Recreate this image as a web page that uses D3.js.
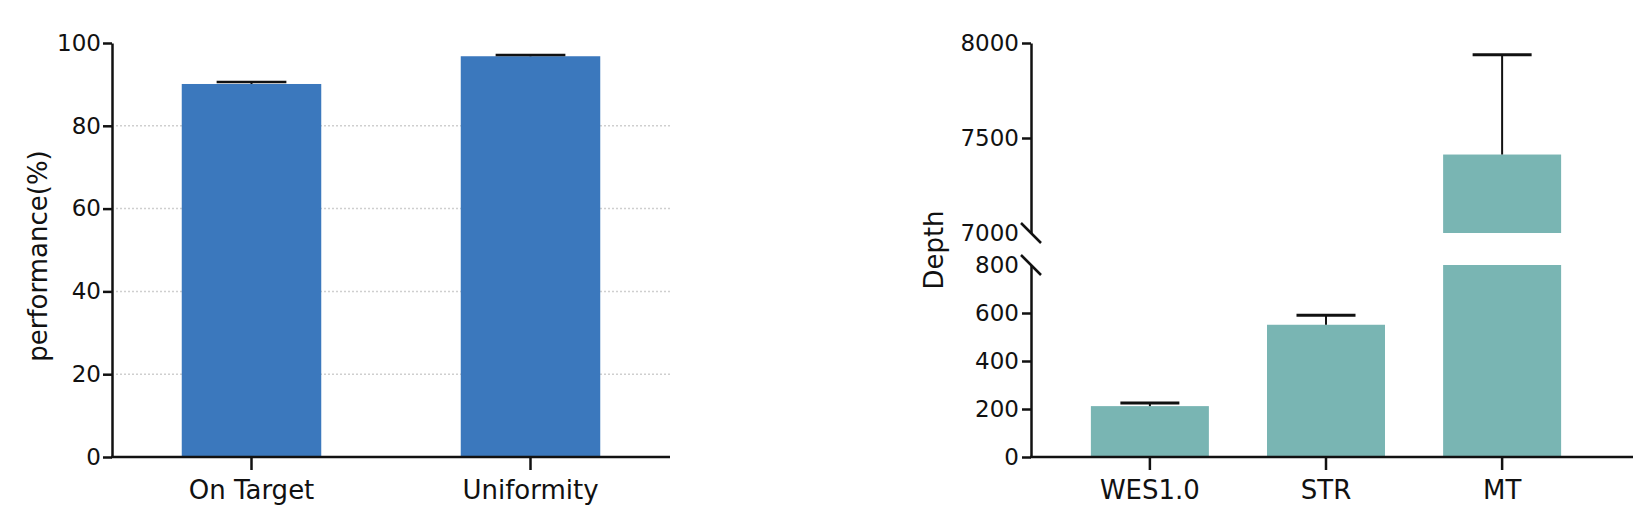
<!DOCTYPE html>
<html>
<head>
<meta charset="utf-8">
<script src="https://cdn.jsdelivr.net/npm/d3@7"></script>
<style>
  body { margin: 0; background: #fff; }
  svg text { font-family: "DejaVu Sans", "Open Sans", sans-serif; fill: #111; }
  .axis path, .axis line { stroke: #111; stroke-width: 2.5px; }
</style>
</head>
<body>
<svg id="chart" width="1636" height="518"></svg>
<script>
// left panel: capture performance
const perfCats = ['On Target', 'Uniformity'];
const perfValues = [90.1, 96.8];
const perfErr = [0.5, 0.3];
const perfTicks = [0, 20, 40, 60, 80, 100];

// right panel: depth, broken y axis
const depthCats = ['WES1.0', 'STR', 'MT'];
const depthValues = [212, 551, 7413];
const depthErr = [13, 40, 525];
const depthLowTicks = [0, 200, 400, 600, 800];
const depthHighTicks = [7000, 7500, 8000];

const svg = d3.select('#chart');
const tickFont = 23;
const labelFont = 26;

// ---------- left chart ----------
let x1 = d3.scaleBand()
  .domain(perfCats)
  .range([112, 670])
  .paddingInner(0.5)
  .paddingOuter(0.25);
let y1 = d3.scaleLinear()
  .domain([0, 100])
  .range([457, 43]);

let left = svg.append('g');

// dotted grid
left.append('g')
  .selectAll('line')
  .data(perfTicks.filter(d => d > 0 && d < 100))
  .enter().append('line')
  .attr('x1', x1.range()[0] + 4)
  .attr('x2', x1.range()[1])
  .attr('y1', d => y1(d))
  .attr('y2', d => y1(d))
  .style('stroke', '#cfcfcf')
  .style('stroke-width', '1.5px')
  .style('stroke-dasharray', '2,2');

left.selectAll('.bar')
  .data(perfValues)
  .enter().append('rect')
  .attr('x', (d, i) => x1(perfCats[i]))
  .attr('width', x1.bandwidth())
  .attr('y', d => y1(d))
  .attr('height', d => y1(0) - y1(d))
  .style('fill', '#3b78bd');

function errorBars(g, cats, vals, errs, x, y, lw) {
  let eb = g.append('g');
  eb.selectAll('.stem')
    .data(vals)
    .enter().append('line')
    .attr('x1', (d, i) => x(cats[i]) + x.bandwidth() / 2)
    .attr('x2', (d, i) => x(cats[i]) + x.bandwidth() / 2)
    .attr('y1', d => y(d))
    .attr('y2', (d, i) => y(d + errs[i]))
    .style('stroke', '#111')
    .style('stroke-width', '2px');
  eb.selectAll('.cap')
    .data(vals)
    .enter().append('line')
    .attr('x1', (d, i) => x(cats[i]) + x.bandwidth() / 4)
    .attr('x2', (d, i) => x(cats[i]) + x.bandwidth() * 3 / 4)
    .attr('y1', (d, i) => y(d + errs[i]))
    .attr('y2', (d, i) => y(d + errs[i]))
    .style('stroke', '#111')
    .style('stroke-width', lw);
}
errorBars(left, perfCats, perfValues, perfErr, x1, y1, '2.5px');

left.append('g')
  .attr('class', 'axis')
  .attr('transform', 'translate(' + x1.range()[0] + ',0)')
  .call(d3.axisLeft(y1).tickValues(perfTicks).tickFormat(d3.format('d'))
    .tickSize(9).tickSizeOuter(0).tickPadding(2))
  .call(g => g.selectAll('text').style('font-size', tickFont + 'px'));

left.append('g')
  .attr('class', 'axis')
  .attr('transform', 'translate(0,' + y1(0) + ')')
  .call(d3.axisBottom(x1).tickSize(13).tickSizeOuter(0).tickPadding(11))
  .call(g => g.selectAll('text').style('font-size', labelFont + 'px'))
  .call(g => g.select('.domain').attr('d', 'M' + (x1.range()[0] - 1) + ',0H' + x1.range()[1]));

left.append('text')
  .attr('transform', 'translate(47,256) rotate(-90)')
  .attr('text-anchor', 'middle')
  .style('font-size', labelFont + 'px')
  .text('performance(%)');

// ---------- right chart ----------
let x2 = d3.scaleBand()
  .domain(depthCats)
  .range([1031, 1621])
  .paddingInner(0.33)
  .paddingOuter(0.34);
let yLow = d3.scaleLinear()
  .domain([0, 800])
  .range([457, 265]);
let yHigh = d3.scaleLinear()
  .domain([7000, 8000])
  .range([233, 43]);
let axisX = x2.range()[0];

let right = svg.append('g');

// lower segment bars (capped at 800)
right.selectAll('.barLow')
  .data(depthValues)
  .enter().append('rect')
  .attr('x', (d, i) => x2(depthCats[i]))
  .attr('width', x2.bandwidth())
  .attr('y', d => yLow(Math.min(d, 800)))
  .attr('height', d => yLow(0) - yLow(Math.min(d, 800)))
  .style('fill', '#79b5b3');

// upper segment bars
let highIdx = depthValues.map((d, i) => i).filter(i => depthValues[i] > 7000);
right.selectAll('.barHigh')
  .data(highIdx)
  .enter().append('rect')
  .attr('x', i => x2(depthCats[i]))
  .attr('width', x2.bandwidth())
  .attr('y', i => yHigh(depthValues[i]))
  .attr('height', i => yHigh(7000) - yHigh(depthValues[i]))
  .style('fill', '#79b5b3');

// error bars: lower ones on lower scale, MT on upper
let lowIdx = depthValues.map((d, i) => i).filter(i => depthValues[i] <= 800);
errorBars(right, lowIdx.map(i => depthCats[i]), lowIdx.map(i => depthValues[i]),
  lowIdx.map(i => depthErr[i]), x2, yLow, '3px');
errorBars(right, highIdx.map(i => depthCats[i]), highIdx.map(i => depthValues[i]),
  highIdx.map(i => depthErr[i]), x2, yHigh, '3px');

right.append('g')
  .attr('class', 'axis')
  .attr('transform', 'translate(' + axisX + ',0)')
  .call(d3.axisLeft(yLow).tickValues(depthLowTicks).tickFormat(d3.format('d'))
    .tickSize(9).tickSizeOuter(0).tickPadding(3))
  .call(g => g.selectAll('text').style('font-size', tickFont + 'px'))
  .call(g => g.selectAll('.tick line').filter(d => d === 800).remove());

right.append('g')
  .attr('class', 'axis')
  .attr('transform', 'translate(' + axisX + ',0)')
  .call(d3.axisLeft(yHigh).tickValues(depthHighTicks).tickFormat(d3.format('d'))
    .tickSize(9).tickSizeOuter(0).tickPadding(3))
  .call(g => g.selectAll('text').style('font-size', tickFont + 'px'))
  .call(g => g.selectAll('.tick line').filter(d => d === 7000).remove());

// break marks on the axis
right.selectAll('.brk')
  .data([yHigh(7000), yLow(800)])
  .enter().append('line')
  .attr('x1', axisX - 10)
  .attr('x2', axisX + 10)
  .attr('y1', d => d - 10)
  .attr('y2', d => d + 10)
  .style('stroke', '#111')
  .style('stroke-width', '2.5px');

right.append('g')
  .attr('class', 'axis')
  .attr('transform', 'translate(0,' + yLow(0) + ')')
  .call(d3.axisBottom(x2).tickSize(13).tickSizeOuter(0).tickPadding(11))
  .call(g => g.selectAll('text').style('font-size', labelFont + 'px'))
  .call(g => g.select('.domain').attr('d', 'M' + (axisX - 1) + ',0H1633'));

right.append('text')
  .attr('transform', 'translate(943,250) rotate(-90)')
  .attr('text-anchor', 'middle')
  .style('font-size', labelFont + 'px')
  .text('Depth');
</script>
</body>
</html>
